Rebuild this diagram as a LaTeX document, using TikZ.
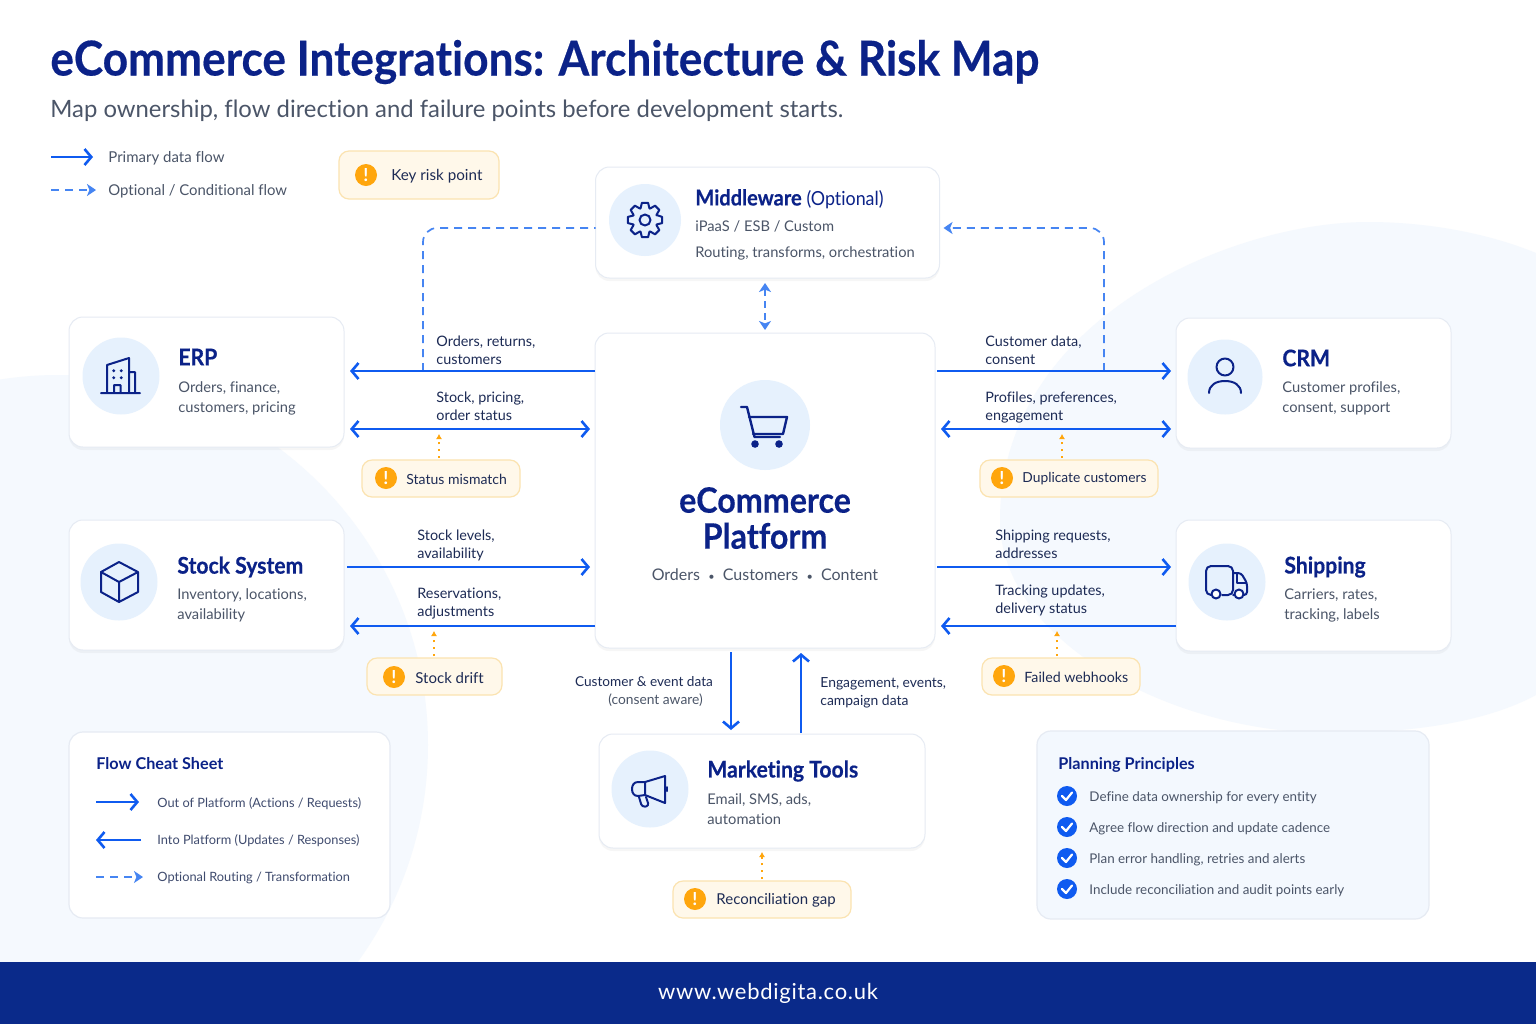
\documentclass[tikz,border=0pt]{standalone}
\usepackage{fontspec}
\setmainfont[Ligatures=NoCommon]{Lato}
\newfontfamily\headfont[FakeStretch=.92, Ligatures=NoCommon, BoldFeatures={FakeBold=.4}]{Lato}
\newfontfamily\footfont[LetterSpace=3.3]{Lato}
\usetikzlibrary{arrows.meta,shadows}

\definecolor{navy}{HTML}{0B2288}
\definecolor{inkline}{HTML}{1D2B55}
\definecolor{greytext}{HTML}{4B5568}
\definecolor{flowblue}{HTML}{0F5BF0}
\definecolor{optblue}{HTML}{4685F2}
\definecolor{riskorange}{HTML}{FFA60D}
\definecolor{riskfill}{HTML}{FFF8EA}
\definecolor{riskline}{HTML}{FBE3B0}
\definecolor{discblue}{HTML}{E6F1FD}
\definecolor{blobblue}{HTML}{F5F9FE}
\definecolor{cardline}{HTML}{E6EBF3}
\definecolor{footerblue}{HTML}{0A2A8A}

\tikzset{
    card/.style 2 args={draw=cardline, fill=white, line width=.5pt, rounded corners=7pt,
        minimum width=#1*.5pt, minimum height=#2*.5pt, inner sep=0, outer sep=0,
        drop shadow={opacity=.07, shadow xshift=0pt, shadow yshift=-1.5pt}},
    flatcard/.style 2 args={draw=cardline, fill=white, line width=.6pt, rounded corners=7pt,
        minimum width=#1*.5pt, minimum height=#2*.5pt, inner sep=0, outer sep=0},
    disc/.style={circle, fill=discblue, minimum size=#1*1pt, inner sep=0},
    icon/.style={draw=navy, line width=1pt, line join=round, line cap=round},
    cardtitle/.style={anchor=west, inner sep=0, text=navy, font=\headfont\fontsize{11.5}{14}\selectfont\bfseries},
    cardtext/.style={anchor=west, inner sep=0, text=greytext, align=left,
        font=\fontsize{7.35}{10}\selectfont},
    flowlabel/.style={anchor=west, inner sep=0, text=inkline, align=left,
        font=\fontsize{7.2}{9}\selectfont},
    notetext/.style={anchor=west, inner sep=0, text=inkline!85, font=\fontsize{6.4}{8}\selectfont},
    boxtitle/.style={anchor=west, inner sep=0, text=navy, font=\fontsize{8.1}{10}\selectfont\bfseries},
    flow/.style={draw=flowblue, line width=1.3pt, ->},
    optflow/.style={draw=optblue, line width=.85pt, dash pattern=on 4pt off 3pt,
        >={Stealth[length=4.5pt,width=6pt,inset=1.2pt]}, ->},
    riskflow/.style={draw=riskorange, line width=.8pt, dash pattern=on 1.2pt off 2.2pt,
        -{Latex[length=2.6pt,width=3.2pt]}},
    risk/.style 2 args={draw=riskline, fill=riskfill, line width=.6pt, rounded corners=5pt,
        minimum width=#1*.5pt, minimum height=#2*.5pt, inner sep=0, outer sep=0},
    riskdot/.style={circle, fill=riskorange, text=white, minimum size=11pt, inner sep=0,
        font=\fontsize{9}{9}\selectfont\bfseries},
    risktext/.style={anchor=west, inner sep=0, text=inkline},
    check/.style={circle, fill=flowblue, minimum size=10pt, inner sep=0}
}

\begin{document}
\begin{tikzpicture}[x=.5pt, y=-.5pt, >={Straight Barb[length=3.4pt,width=8pt]}]
    \useasboundingbox (0,0) rectangle (1536,1024);
    \fill[white] (0,0) rectangle (1536,1024);

    % soft background shapes
    \scope
        \clip (0,0) rectangle (1536,962);
        \fill[blobblue] (58,745) circle (370);
        \fill[blobblue] (1536,253) .. controls (1490,234) and (1430,222) .. (1368,222)
            .. controls (1230,222) and (1000,320) .. (1000,520)
            .. controls (1000,640) and (1170,733) .. (1330,733)
            .. controls (1420,733) and (1490,720) .. (1536,695) -- cycle;
    \endscope

    % heading
    \node[anchor=west, inner sep=0, text=navy, font=\headfont\fontsize{24}{26}\selectfont\bfseries] (heading) at (50,62)
        {eCommerce Integrations: Architecture \& Risk Map};
    \node[anchor=west, inner sep=0, text=greytext, font=\fontsize{11.93}{14}\selectfont] (subheading) at (50,111)
        {Map ownership, flow direction and failure points before development starts.};

    % legend
    \coordinate (legA) at (51,157);
    \coordinate (legB) at (51,190);
    \node[flowlabel, text=greytext, font=\fontsize{7.5}{9}\selectfont] (legtextA) at (108,158.5) {Primary data flow};
    \node[flowlabel, text=greytext, font=\fontsize{7.45}{9}\selectfont] (legtextB) at (108,191.5) {Optional / Conditional flow};
    \draw[flow] (legA) -- ([xshift=-7.5pt]legtextA.west |- legA);
    \draw[optflow] (legB) -- ([xshift=-6pt]legtextB.west |- legB);

    % cards
    \node[card={344}{111}] (middleware) at (767.5,222.5) {};
    \node[card={340}{315}] (platform) at (765,490.5) {};
    \node[card={275}{130}] (erp) at (206.5,382) {};
    \node[card={275}{130}] (crm) at (1313.5,383) {};
    \node[card={275}{130}] (stock) at (206.5,585) {};
    \node[card={275}{131}] (shipping) at (1313.5,585.5) {};
    \node[card={326}{114}] (marketing) at (762,791) {};

    % icon discs
    \foreach \n/\x/\y/\r in {middleware/645/220/36, platform/765/425/45, erp/121/376/38.5,
            crm/1225/377/37.5, stock/119/582/38.5, shipping/1227/582/38.5, marketing/650/789/38.5} {
        \node[disc=\r] (\n disc) at (\x,\y) {};
    }

    % card texts
    \node[cardtitle, font=\headfont\fontsize{10.9}{14}\selectfont\bfseries] (middlewaretitle) at (695,199)
        {Middleware {\mdseries\fontsize{9.7}{14}\selectfont (Optional)}};
    \node[cardtext] (middlewaretextA) at (695,226) {iPaaS / ESB / Custom};
    \node[cardtext] (middlewaretextB) at (695,253) {Routing, transforms, orchestration};
    \node[cardtitle] (erptitle) at (178,357) {ERP};
    \node[cardtext] (erptext) at (178,398) {Orders, finance,\\customers, pricing};
    \node[cardtitle] (crmtitle) at (1282,358) {CRM};
    \node[cardtext] (crmtext) at (1282,398) {Customer profiles,\\consent, support};
    \node[cardtitle] (stocktitle) at (177,567) {Stock System};
    \node[cardtext] (stocktext) at (177,605) {Inventory, locations,\\availability};
    \node[cardtitle] (shippingtitle) at (1284,567) {Shipping};
    \node[cardtext] (shippingtext) at (1284,605) {Carriers, rates,\\tracking, labels};
    \node[cardtitle] (marketingtitle) at (707,771) {Marketing Tools};
    \node[cardtext] (marketingtext) at (707,809) {Email, SMS, ads,\\automation};
    \node[inner sep=0, text=navy, align=center, font=\headfont\fontsize{17.5}{18}\selectfont\bfseries] (platformtitle) at (765,518) {eCommerce\\Platform};
    \node[inner sep=0, text=greytext, font=\fontsize{8}{10}\selectfont] (platformtext) at (765,575)
        {Orders\ \ {\fontsize{5.5}{5}\selectfont\textbullet}\ \ Customers\ \ {\fontsize{5.5}{5}\selectfont\textbullet}\ \ Content};

    % icons
    \scope[shift={(645,220)}]
        \draw[icon] (0,0) circle (5.5);
        \draw[icon] (-24:12.5) \foreach \a in {0,45,...,315} {
            -- (\a-10:17.5) -- (\a+10:17.5) -- (\a+21:12.5) -- (\a+24:12.5)
        } -- cycle;
    \endscope
    \draw[icon] (101,393) -- (140,393) (107,393) -- (107,365) -- (129,358) -- (129,393)
        (129,372) -- (135,372) -- (135,393) (114,393) -- (114,385) -- (120.5,385) -- (120.5,393);
    \foreach \x/\y in {113.7/370.7, 121.3/370.7, 113.7/377.7, 121.3/377.7} {
        \fill[navy] (\x,\y) circle (1.6);
    }
    \draw[icon] (1225,367) circle (8.5);
    \draw[icon] (1209,393) .. controls (1209,385) and (1216,381) .. (1225,381) .. controls (1234,381) and (1241,385) .. (1241,393);
    \draw[icon] (119,562) -- (138,572) -- (138,592) -- (119,602) -- (101,592) -- (101,572) -- cycle
        (101,572) -- (119,582) -- (138,572) (119,582) -- (119,602);
    \draw[icon, rounded corners=2.5pt] (1211,595) -- (1206,595) -- (1206,566) -- (1233,566) -- (1233,595) -- (1222,595);
    \draw[icon, rounded corners=1.5pt] (1233,573) -- (1241,573) -- (1247,583) -- (1247,595) -- (1244,595) (1234,595) -- (1233,595);
    \draw[icon] (1237,574) -- (1237,583) -- (1246,583);
    \draw[icon, fill=white] (1216,594) circle (4.5) (1239,594) circle (4.5);
    \draw[icon, line width=1.2pt] (741,407) -- (747,407) -- (754.5,437) -- (780,437);
    \draw[icon, line width=1.2pt] (749,417) -- (787,417) -- (783,434) -- (753,434);
    \fill[navy] (755,444) circle (3.8) (779,444) circle (3.8);
    \draw[icon] (645,782) -- (665,776) -- (665,803) -- (645,795) -- cycle;
    \draw[icon] (645,782) -- (638,782) .. controls (634,782) and (632,785) .. (632,789)
        .. controls (632,793) and (634,796) .. (638,796) -- (645,795);
    \draw[icon, rounded corners=1.5pt] (639,797) -- (642,807) -- (649,806) -- (646,797);
    \draw[icon] (667,787) -- (667,791);

    % optional routes through the middleware
    \coordinate (optY) at (0,228);
    \coordinate (optL) at (423,371);
    \coordinate (optR) at (1104,371);
    \coordinate (optC) at (765,0);
    \draw[optflow, -, rounded corners=7pt] (optL) |- (middleware.west |- optY);
    \draw[optflow, rounded corners=7pt] (optR) |- ([xshift=2pt]middleware.east |- optY);
    \draw[optflow, <->, dash pattern=on 3.5pt off 2.5pt] ([yshift=-2.5pt]middleware.south -| optC) -- ([yshift=1.5pt]platform.north -| optC);

    % flows, these y values are the rows of the arrows
    \coordinate (rowA) at (0,371);
    \coordinate (rowB) at (0,429);
    \coordinate (rowC) at (0,567);
    \coordinate (rowD) at (0,626);
    \coordinate (colA) at (731,0);
    \coordinate (colB) at (801,0);
    \draw[flow] (platform.west |- rowA) -- ([xshift=3pt]erp.east |- rowA);
    \draw[flow, <->] ([xshift=3pt]erp.east |- rowB) -- ([xshift=-2.5pt]platform.west |- rowB);
    \draw[flow] ([xshift=1pt]platform.east |- rowA) -- ([xshift=-2.5pt]crm.west |- rowA);
    \draw[flow, <->] ([xshift=3pt]platform.east |- rowB) -- ([xshift=-2.5pt]crm.west |- rowB);
    \draw[flow] ([xshift=1.5pt]stock.east |- rowC) -- ([xshift=-2.5pt]platform.west |- rowC);
    \draw[flow] (platform.west |- rowD) -- ([xshift=3pt]stock.east |- rowD);
    \draw[flow] ([xshift=1pt]platform.east |- rowC) -- ([xshift=-2.5pt]shipping.west |- rowC);
    \draw[flow] (shipping.west |- rowD) -- ([xshift=3pt]platform.east |- rowD);
    \draw[flow] ([yshift=-2pt]platform.south -| colA) -- ([yshift=2pt]marketing.north -| colA);
    \draw[flow] ([yshift=.5pt]marketing.north -| colB) -- ([yshift=-2.5pt]platform.south -| colB);

    % flow labels
    \foreach \n/\x/\y/\t in {fa/436/350/{Orders, returns,\\customers}, fb/436/406/{Stock, pricing,\\order status},
            fc/985/350/{Customer data,\\consent}, fd/985/407/{Profiles, preferences,\\engagement},
            fe/417/545/{Stock levels,\\availability}, ff/417/603.5/{Reservations,\\adjustments},
            fg/995/544/{Shipping requests,\\addresses}, fh/995/600/{Tracking updates,\\delivery status}} {
        \node[flowlabel] (\n) at (\x,\y) {\t};
    }
    \node[flowlabel, font=\fontsize{6.95}{9}\selectfont] (fi) at (820,692.5) {Engagement, events,\\campaign data};
    \node[flowlabel, anchor=center, font=\fontsize{6.8}{9}\selectfont] (fj) at (644,682) {Customer \& event data};
    \node[flowlabel, anchor=center, text=greytext, font=\fontsize{6.9}{9}\selectfont] (fk) at (655.5,700.5) {(consent aware)};

    % risk badges
    \node[risk={160}{48}] (riskkey) at (419,175) {};
    \node[risk={158}{37}] (riskstatus) at (441,478.5) {};
    \node[risk={178}{37}] (riskdup) at (1069,478.5) {};
    \node[risk={135}{37}] (riskdrift) at (434.5,676.5) {};
    \node[risk={158}{37}] (riskhook) at (1061,676.5) {};
    \node[risk={178}{37}] (riskgap) at (762,899.5) {};
    \foreach \n/\x/\y/\tx/\s/\t in {key/366/175/391/7.6/Key risk point, status/386/478/406/7/Status mismatch,
            dup/1002/478/1022/6.9/Duplicate customers, drift/394/677/415/7.5/Stock drift,
            hook/1004/676/1024/7.1/Failed webhooks, gap/695/899/716/7.5/Reconciliation gap} {
        \node[riskdot] (dot\n) at (\x,\y) {!};
        \node[risktext, font=\fontsize{\s}{9}\selectfont] (text\n) at (\tx,\y+1) {\t};
    }
    \coordinate (riskA) at (439,0);
    \coordinate (riskB) at (1062,0);
    \coordinate (riskC) at (434,0);
    \coordinate (riskD) at (1057,0);
    \draw[riskflow] ([yshift=1pt]riskstatus.north -| riskA) -- ++(0,-24);
    \draw[riskflow] ([yshift=1pt]riskdup.north -| riskB) -- ++(0,-24);
    \draw[riskflow] ([yshift=1pt]riskdrift.north -| riskC) -- ++(0,-25);
    \draw[riskflow] ([yshift=1pt]riskhook.north -| riskD) -- ++(0,-25);
    \draw[riskflow] ([yshift=1pt]riskgap.north) -- ([yshift=-2pt]marketing.south -| riskgap.north);

    % cheat sheet
    \node[flatcard={321}{186}] (cheatsheet) at (229.5,825) {};
    \node[boxtitle] (cheattitle) at (96,764) {Flow Cheat Sheet};
    \node[notetext] (cheatA) at (157,804) {Out of Platform (Actions / Requests)};
    \node[notetext] (cheatB) at (157,841) {Into Platform (Updates / Responses)};
    \node[notetext] (cheatC) at (157,878) {Optional Routing / Transformation};
    \coordinate (cheatstartA) at (96,802);
    \coordinate (cheatstartB) at (141,840);
    \coordinate (cheatstartC) at (96,877);
    \coordinate (cheatendB) at (96,840);
    \draw[flow] (cheatstartA) -- ([xshift=-9pt]cheatA.west |- cheatstartA);
    \draw[flow] (cheatstartB) -- (cheatendB);
    \draw[optflow] (cheatstartC) -- ([xshift=-7pt]cheatC.west |- cheatstartC);

    % planning principles
    \node[flatcard={392}{188}, fill=blobblue!90!discblue] (planning) at (1233,825) {};
    \node[boxtitle] (planningtitle) at (1058,765) {Planning Principles};
    \foreach \y/\t in {796/Define data ownership for every entity, 827/Agree flow direction and update cadence,
            858/{Plan error handling, retries and alerts}, 889/Include reconciliation and audit points early} {
        \node[check] (check\y) at (1067,\y) {};
        \draw[white, line width=1.1pt, line cap=round, line join=round] (1062,\y) -- (1066,\y+4) -- (1072,\y-3.5);
        \node[cardtext, font=\fontsize{6.7}{9}\selectfont] (principle\y) at (1089,\y+2) {\t};
    }

    % footer
    \fill[footerblue] (0,962) rectangle (1536,1024);
    \node[inner sep=0, text=white, font=\footfont\fontsize{11}{13}\selectfont] (footer) at (768,993.5) {www.webdigita.co.uk};
\end{tikzpicture}
\end{document}
